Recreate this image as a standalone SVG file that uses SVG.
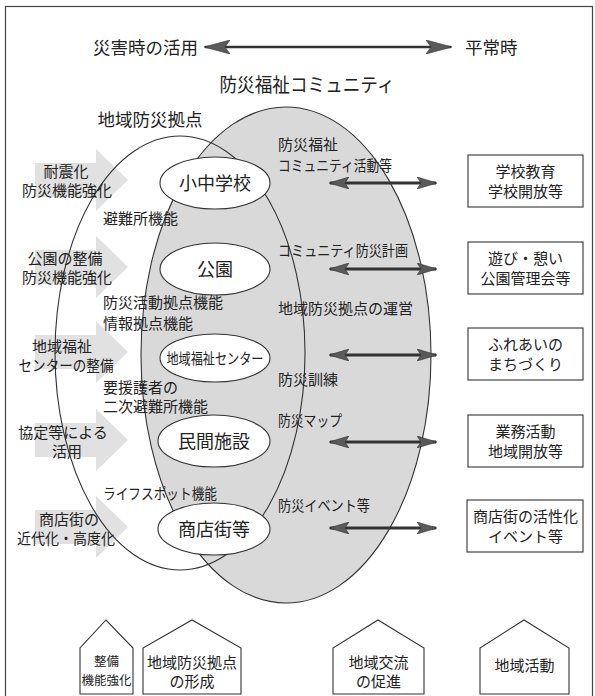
<svg xmlns="http://www.w3.org/2000/svg" width="595" height="696" viewBox="0 0 595 696">
<defs>
<style>
text{font-family:"Noto Sans CJK JP","Noto Sans CJK SC",sans-serif;fill:#222;}
.t15{font-size:15px;}
.t13{font-size:12.5px;}
.t17{font-size:17.5px;}
.t18{font-size:18px;}
.mid{text-anchor:middle;}
.ln{fill:none;stroke:#333;stroke-width:1.1;}
.fatarrow{fill:#e1e1e1;stroke:none;}
.node{fill:#fff;stroke:#333;stroke-width:1.1;}
.shaft{stroke:#333;stroke-width:3;fill:none;}
.head{fill:#5a5a5a;stroke:#333;stroke-width:0.6;}
</style>
<marker id="ah" viewBox="0 0 20 12" refX="19" refY="6" markerWidth="20" markerHeight="12" markerUnits="userSpaceOnUse" orient="auto-start-reverse">
<path d="M0,0 L20,6 L0,12 L4,6 Z" class="head"/>
</marker>
<marker id="ahBig" viewBox="0 0 26 14" refX="25" refY="7" markerWidth="26" markerHeight="14" markerUnits="userSpaceOnUse" orient="auto-start-reverse">
<path d="M0,0 L26,7 L0,14 L5,7 Z" class="head"/>
</marker>
</defs>

<rect x="5.5" y="6.5" width="587" height="705" fill="#fff" stroke="#444" stroke-width="1.2"/>

<!-- top header -->
<g id="header">
<text class="t17" x="93" y="53.5">災害時の活用</text>
<text class="t17" x="465" y="53.5">平常時</text>
</g>

<!-- left fat arrows -->
<g id="left-arrows">
<polygon class="fatarrow" points="35,163 96,163 96,149 128,180 96,211 96,197 35,197"/>
<polygon class="fatarrow" points="35,250 96,250 96,236 128,267 96,298 96,284 35,284"/>
<polygon class="fatarrow" points="35,335 96,335 96,321 128,352 96,383 96,369 35,369"/>
<polygon class="fatarrow" points="35,423 96,423 96,409 128,440 96,471 96,457 35,457"/>
<polygon class="fatarrow" points="35,510 96,510 96,496 128,527 96,558 96,544 35,544"/>
</g>

<!-- community (gray) ellipse -->
<g id="community">
<ellipse cx="286" cy="355" rx="145" ry="248" fill="#d9d9d9" stroke="#333" stroke-width="1.1"/>
<text x="307" y="92" style="font-size:19px" class="mid" textLength="175" lengthAdjust="spacingAndGlyphs">防災福祉コミュニティ</text>
</g>

<!-- base (white outline) ellipse -->
<g id="base">
<ellipse cx="180" cy="353" rx="125" ry="217" class="ln"/>
<text class="t17 mid" x="150" y="126">地域防災拠点</text>
</g>

<!-- left improvement labels -->
<g id="left-labels">
<text class="t15 mid" x="66" y="176.5">耐震化</text>
<text class="t15 mid" x="67" y="195.5">防災機能強化</text>
<text class="t15 mid" x="65" y="263.5">公園の整備</text>
<text class="t15 mid" x="67" y="282.5">防災機能強化</text>
<text class="t15 mid" x="62" y="351.5">地域福祉</text>
<text class="t15 mid" x="66" y="370.5" textLength="95" lengthAdjust="spacingAndGlyphs">センターの整備</text>
<text class="t15 mid" x="63" y="437.5">協定等による</text>
<text class="t15 mid" x="67" y="456.5">活用</text>
<text class="t15 mid" x="69" y="524.5">商店街の</text>
<text class="t15 mid" x="66" y="543.5" textLength="98" lengthAdjust="spacingAndGlyphs">近代化・高度化</text>
</g>

<!-- facility nodes -->
<g id="school">
<ellipse class="node" cx="215" cy="183" rx="55" ry="26"/>
<text class="t18 mid" x="215" y="189.5">小中学校</text>
</g>
<g id="park">
<ellipse class="node" cx="215" cy="269" rx="55" ry="26"/>
<text class="t18 mid" x="215" y="275.5">公園</text>
</g>
<g id="welfare-center">
<ellipse class="node" cx="215" cy="358" rx="55" ry="24"/>
<text class="t15 mid" x="215" y="363.5" textLength="97" lengthAdjust="spacingAndGlyphs">地域福祉センター</text>
</g>
<g id="private">
<ellipse class="node" cx="214" cy="441" rx="56" ry="26"/>
<text class="t18 mid" x="214" y="447.5">民間施設</text>
</g>
<g id="shopping">
<ellipse class="node" cx="214" cy="529" rx="56" ry="26"/>
<text class="t18 mid" x="214" y="535.5">商店街等</text>
</g>

<!-- function labels -->
<g id="functions">
<text class="t15" x="103" y="223.5">避難所機能</text>
<text class="t15" x="103" y="307.5">防災活動拠点機能</text>
<text class="t15" x="103" y="328.5">情報拠点機能</text>
<text class="t15" x="103" y="392.5">要援護者の</text>
<text class="t15" x="103" y="411.5">二次避難所機能</text>
<text class="t15" x="103" y="498.5" textLength="114" lengthAdjust="spacingAndGlyphs">ライフスポット機能</text>
</g>

<!-- community activity labels -->
<g id="activities">
<text class="t15" x="278" y="150">防災福祉</text>
<text class="t15" x="278" y="170.5" textLength="114" lengthAdjust="spacingAndGlyphs">コミュニティ活動等</text>
<text class="t15" x="278" y="255.5" textLength="130" lengthAdjust="spacingAndGlyphs">コミュニティ防災計画</text>
<text class="t15" x="278" y="313.5">地域防災拠点の運営</text>
<text class="t15" x="278" y="384.5">防災訓練</text>
<text class="t15" x="278" y="425.5" textLength="64" lengthAdjust="spacingAndGlyphs">防災マップ</text>
<text class="t15" x="278" y="510.5" textLength="92" lengthAdjust="spacingAndGlyphs">防災イベント等</text>
</g>

<!-- connectors -->
<g id="connectors">
<line class="shaft" x1="205" y1="47" x2="451" y2="47" marker-start="url(#ahBig)" marker-end="url(#ahBig)" style="stroke-width:2.5"/>
<line class="shaft" x1="330" y1="183" x2="436" y2="183" marker-start="url(#ah)" marker-end="url(#ah)"/>
<line class="shaft" x1="330" y1="269" x2="436" y2="269" marker-start="url(#ah)" marker-end="url(#ah)"/>
<line class="shaft" x1="330" y1="355" x2="436" y2="355" marker-start="url(#ah)" marker-end="url(#ah)"/>
<line class="shaft" x1="330" y1="442" x2="436" y2="442" marker-start="url(#ah)" marker-end="url(#ah)"/>
<line class="shaft" x1="330" y1="528" x2="436" y2="528" marker-start="url(#ah)" marker-end="url(#ah)"/>
</g>

<!-- normal-time boxes -->
<g id="box-school">
<rect class="node" x="468" y="155" width="115" height="52"/>
<text class="t15 mid" x="525.5" y="177">学校教育</text>
<text class="t15 mid" x="525.5" y="197">学校開放等</text>
</g>
<g id="box-park">
<rect class="node" x="468" y="242" width="115" height="52"/>
<text class="t15 mid" x="525.5" y="264">遊び・憩い</text>
<text class="t15 mid" x="525.5" y="284">公園管理会等</text>
</g>
<g id="box-welfare">
<rect class="node" x="468" y="328" width="115" height="52"/>
<text class="t15 mid" x="525.5" y="350">ふれあいの</text>
<text class="t15 mid" x="525.5" y="370">まちづくり</text>
</g>
<g id="box-private">
<rect class="node" x="468" y="415" width="115" height="52"/>
<text class="t15 mid" x="525.5" y="437">業務活動</text>
<text class="t15 mid" x="525.5" y="457">地域開放等</text>
</g>
<g id="box-shopping">
<rect class="node" x="467" y="500" width="116" height="52"/>
<text class="t15 mid" x="525.5" y="522">商店街の活性化</text>
<text class="t15 mid" x="525.5" y="542">イベント等</text>
</g>

<!-- bottom house-shaped labels -->
<g id="house-maintain">
<polygon class="node" points="80,694 80,648 106,620 133,648 133,694"/>
<text class="t13 mid" x="106.5" y="665.5">整備</text>
<text class="t13 mid" x="106.5" y="684.5">機能強化</text>
</g>
<g id="house-base">
<polygon class="node" points="143,694 143,648 192,620 241,648 241,694"/>
<text class="t15 mid" x="192" y="667.5">地域防災拠点</text>
<text class="t15 mid" x="192" y="686.5">の形成</text>
</g>
<g id="house-exchange">
<polygon class="node" points="333,694 333,648 378,620 424,648 424,694"/>
<text class="t15 mid" x="378.5" y="667.5">地域交流</text>
<text class="t15 mid" x="378.5" y="686.5">の促進</text>
</g>
<g id="house-activity">
<polygon class="node" points="480,694 480,648 524,620 569,648 569,694"/>
<text class="t15 mid" x="524.5" y="670.5">地域活動</text>
</g>
</svg>
